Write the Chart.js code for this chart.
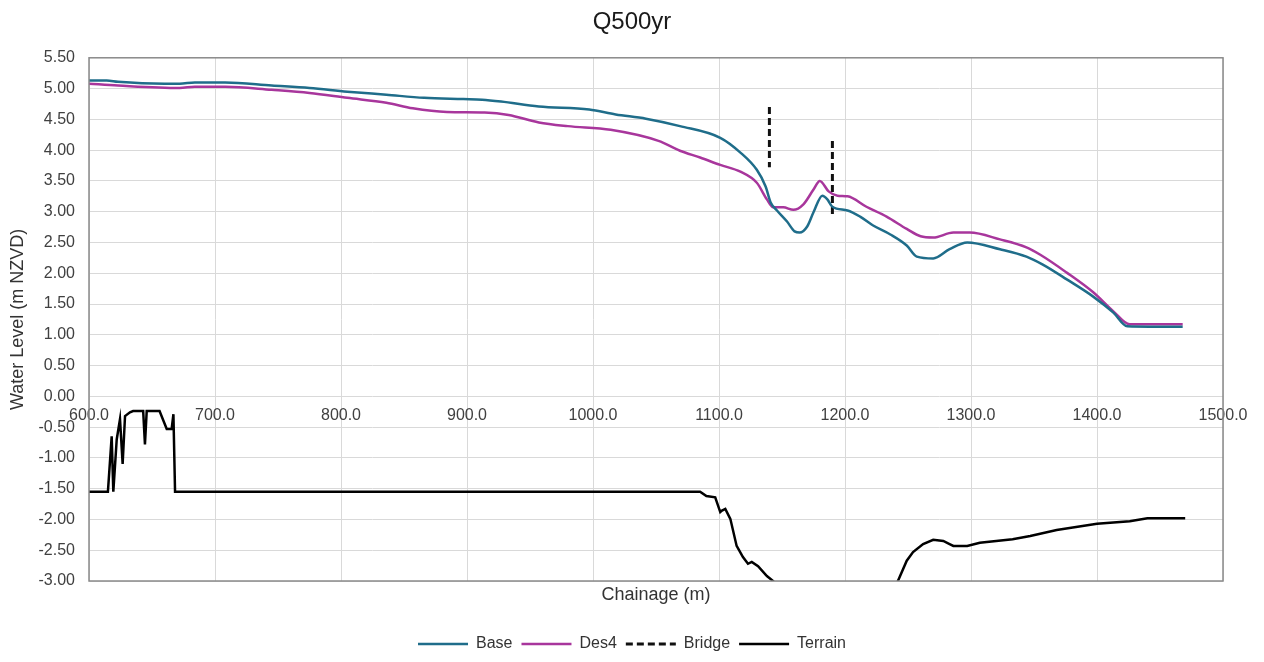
<!DOCTYPE html>
<html><head><meta charset="utf-8">
<script src="https://cdn.jsdelivr.net/npm/chart.js@4.4.1/dist/chart.umd.min.js"></script>
<style>html,body{margin:0;padding:0;background:#fff;}#wrap{width:1264px;height:662px;}</style>
</head><body><div id="wrap"><canvas id="c" width="1264" height="662"></canvas></div>
<script>
// ---- data (chainage in m, levels in m NZVD) ----
const chartTitle = 'Q500yr';
const seriesNames = ['Base', 'Des4', 'Bridge', 'Terrain'];

const baseX = [600,614,623,660,672,684,708,745,775,805,836,866,897,912,927,957,997,1018,1042,1069,1101,1117,1130,1137,1141,1146,1154,1160,1164,1170,1175,1182,1186,1190,1202,1212,1222,1236,1249,1257,1270,1283,1297,1323,1344,1357,1376,1397,1413,1424,1468];
const baseY = [5.13,5.13,5.11,5.08,5.08,5.10,5.10,5.05,5.01,4.95,4.90,4.85,4.83,4.82,4.79,4.71,4.66,4.58,4.51,4.39,4.20,3.96,3.68,3.41,3.15,3.02,2.84,2.68,2.66,2.76,2.99,3.26,3.20,3.08,3.02,2.92,2.78,2.63,2.45,2.27,2.24,2.39,2.50,2.39,2.27,2.14,1.90,1.62,1.36,1.14,1.13];

const des4X = [600,623,672,684,708,745,775,805,836,857,884,914,933,957,980,1014,1052,1069,1085,1101,1117,1130,1138,1143,1151,1159,1167,1175,1180,1187,1194,1202,1217,1233,1249,1260,1270,1286,1299,1323,1344,1355,1376,1397,1413,1426,1468];
const des4Y = [5.08,5.05,5.01,5.03,5.03,4.98,4.93,4.85,4.77,4.68,4.62,4.61,4.57,4.45,4.39,4.33,4.15,3.99,3.88,3.76,3.65,3.47,3.20,3.07,3.07,3.03,3.12,3.36,3.50,3.33,3.26,3.25,3.08,2.92,2.72,2.60,2.58,2.66,2.66,2.55,2.42,2.30,2.01,1.69,1.38,1.17,1.17];

const bridgeX = [1140,1140,1165,1190,1190];
const bridgeY = [4.70,3.72,null,4.15,2.95];

const terrainX = [600,615,618,619.3,622,624.6,626.7,628.6,632.5,635,643,644.4,645.8,656,661.7,665.6,667,668.3,1085,1090,1097,1101,1102,1105,1109,1114,1119,1123,1126,1131,1138,1143,1150,1235,1242,1249,1254,1262,1270,1278,1283,1286,1297,1307,1333,1347,1368,1400,1426,1440,1470];
const terrainY = [-1.55,-1.55,-0.65,-1.55,-0.70,-0.37,-1.10,-0.32,-0.26,-0.24,-0.24,-0.78,-0.24,-0.24,-0.53,-0.53,-0.29,-1.55,-1.55,-1.62,-1.64,-1.88,-1.86,-1.83,-1.99,-2.43,-2.61,-2.72,-2.69,-2.76,-2.92,-3.00,-3.20,-3.20,-3.00,-2.67,-2.53,-2.40,-2.33,-2.35,-2.40,-2.43,-2.43,-2.38,-2.32,-2.27,-2.17,-2.07,-2.03,-1.98,-1.98];

const xAxisTitle = 'Chainage (m)';
const yAxisTitle = 'Water Level (m NZVD)';
const xMin = 600, xMax = 1500, xStep = 100;
const yMin = -3, yMax = 5.5, yStep = 0.5;

// ---- build ----
const pts = (xs, ys) => xs.map((x, i) => ({x: x, y: ys[i]}));
const FONT = "'Liberation Sans', Arial, sans-serif";

const framePlugin = {
  id: 'frame',
  afterDatasetsDraw(chart) {
    const {ctx, chartArea: a} = chart;
    ctx.save();
    ctx.strokeStyle = '#8a8a8a';
    ctx.lineWidth = 1.5;
    ctx.strokeRect(a.left, a.top, a.width, a.height);
    ctx.restore();
  }
};

Chart.defaults.font.family = FONT;
const defaultLabels = Chart.defaults.plugins.legend.labels.generateLabels;

new Chart(document.getElementById('c'), {
  type: 'line',
  data: {
    datasets: [
      {label: seriesNames[0], data: pts(baseX, baseY), borderColor: '#1f6d8a', backgroundColor: '#1f6d8a', borderWidth: 2.5, pointRadius: 0, cubicInterpolationMode: 'monotone', xAxisID: 'x', yAxisID: 'y'},
      {label: seriesNames[1], data: pts(des4X, des4Y), borderColor: '#a8369c', backgroundColor: '#a8369c', borderWidth: 2.5, pointRadius: 0, cubicInterpolationMode: 'monotone', xAxisID: 'x', yAxisID: 'y'},
      {label: seriesNames[2], data: pts(bridgeX, bridgeY), borderColor: '#111', backgroundColor: '#111', borderWidth: 3, borderDash: [7, 4], pointRadius: 0, spanGaps: false, xAxisID: 'x', yAxisID: 'y'},
      {label: seriesNames[3], data: pts(terrainX, terrainY), borderColor: '#000', backgroundColor: '#000', borderWidth: 2.5, pointRadius: 0, tension: 0, xAxisID: 'x', yAxisID: 'y'}
    ]
  },
  options: {
    responsive: false,
    animation: false,
    devicePixelRatio: 1,
    layout: {padding: {left: 0, right: 0, top: 0, bottom: 0}},
    plugins: {
      title: {display: true, text: chartTitle, color: '#1a1a1a', font: {size: 24, weight: 'normal', family: FONT}, padding: {top: 8, bottom: 21}},
      legend: {
        display: true, position: 'bottom',
        labels: {
          usePointStyle: true, pointStyle: 'line', pointStyleWidth: 50, padding: 9, color: '#333', font: {size: 16, family: FONT},
          generateLabels: chart => {
            const items = defaultLabels(chart);
            items.forEach(it => {
              const ds = chart.data.datasets[it.datasetIndex];
              it.lineDash = ds.borderDash || [];
              it.lineWidth = ds.borderWidth;
              it.strokeStyle = ds.borderColor;
              it.pointStyle = 'line';
            });
            return items;
          }
        }
      },
      tooltip: {enabled: false}
    },
    scales: {
      x: {
        type: 'linear', position: 'bottom', min: xMin, max: xMax,
        ticks: {display: false, stepSize: xStep},
        grid: {color: '#d9d9d9', lineWidth: 1, drawTicks: false},
        border: {display: false},
        title: {display: true, text: xAxisTitle, color: '#333', font: {size: 18, family: FONT}, padding: {top: 0, bottom: 21}},
        afterFit: s => { s.height = 46; }
      },
      xLabels: {
        type: 'linear', axis: 'x', position: {y: 0}, min: xMin, max: xMax,
        ticks: {stepSize: xStep, padding: 10, color: '#404040', font: {size: 16, family: FONT}, maxRotation: 0, autoSkip: false, callback: v => Number(v).toFixed(1)},
        grid: {display: false, drawTicks: false},
        border: {display: false}
      },
      y: {
        type: 'linear', position: 'left', min: yMin, max: yMax,
        ticks: {stepSize: yStep, padding: 14, color: '#404040', font: {size: 16, family: FONT}, callback: v => Number(v).toFixed(2)},
        grid: {color: '#d9d9d9', lineWidth: 1, drawTicks: false},
        border: {display: false},
        title: {display: true, text: yAxisTitle, color: '#333', font: {size: 18, family: FONT}, padding: {top: 7, bottom: 0}},
        afterFit: s => { s.width = 89; }
      },
      yR: {
        type: 'linear', position: 'right', display: true,
        ticks: {display: false}, grid: {display: false, drawTicks: false}, border: {display: false},
        afterFit: s => { s.width = 41; }
      }
    }
  },
  plugins: [framePlugin]
});
</script>
</body></html>
